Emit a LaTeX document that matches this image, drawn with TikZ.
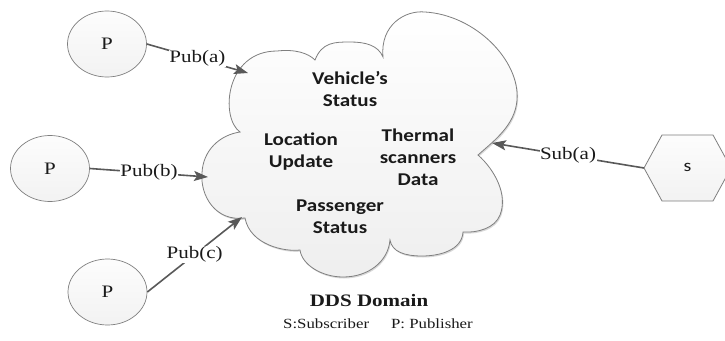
\documentclass[tikz,border=0pt]{standalone}
\usepackage{fontspec}
\setmainfont{Liberation Serif}[FakeStretch=1.2]
\newfontfamily\calfont{Carlito}[FakeStretch=1.17]
\usetikzlibrary{arrows.meta,shapes.geometric,shadows}
\definecolor{conncol}{HTML}{595959}
\definecolor{edgecol}{HTML}{7F7F7F}
\definecolor{txtcol}{HTML}{1A1A1A}
\tikzset{
  pubnode/.style={ellipse, draw=edgecol, line width=0.7pt, top color=gray!2, bottom color=gray!10,
    minimum width=79pt, minimum height=66pt, inner sep=0pt, font=\fontsize{17.5}{21}\selectfont, text=txtcol},
  conn/.style={draw=conncol, line width=1.6pt, -{Stealth[length=14pt,width=10pt,inset=3pt]}},
  lab/.style={fill=white, inner sep=0.5pt, font=\fontsize{17.5}{21}\selectfont, text=txtcol},
  topic/.style={align=center, font=\calfont\bfseries\fontsize{18}{22}\selectfont, text=txtcol},
  shapeline/.style={draw=edgecol, line width=0.8pt},
}
\begin{document}
\begin{tikzpicture}[x=1pt,y=-1pt]
\useasboundingbox (0,0) rectangle (725,340);
\fill[white] (0,0) rectangle (725,340);

% cloud (DDS domain)
\path[shapeline, top color=white, bottom color=gray!13,
      drop shadow={shadow xshift=1pt, shadow yshift=-1.5pt, opacity=0.3, fill=gray}]
  (240,132) .. controls (220,118) and (225,51) .. (277,51)
  .. controls (295,49) and (308,53) .. (315,60)
  .. controls (322,42) and (335,42) .. (350,42)
  .. controls (365,42) and (378,45) .. (383,57)
  .. controls (380,25) and (405,10) .. (425,12)
  .. controls (475,15) and (520,60) .. (517,100)
  .. controls (515,125) and (495,140) .. (478,155)
  .. controls (495,170) and (508,195) .. (500,215)
  .. controls (495,228) and (478,233) .. (463,232)
  .. controls (462,250) and (440,256) .. (422,256)
  .. controls (405,256) and (392,252) .. (390,240)
  .. controls (388,262) and (368,277) .. (343,277)
  .. controls (322,277) and (302,265) .. (300,250)
  .. controls (285,252) and (250,245) .. (245,218)
  .. controls (215,222) and (200,195) .. (202,173)
  .. controls (203,150) and (220,135) .. (240,132) -- cycle;

\coordinate (ca) at (248,73);
\coordinate (cb) at (208,177);
\coordinate (cc) at (242,217);
\coordinate (cs) at (492,143);

% topics
\node[topic] (t1) at (350,89.5) {Vehicle’s\\Status};
\node[topic] (t2) at (301,152) {Location\\Update};
\node[topic] (t3) at (418,157) {Thermal\\scanners\\Data};
\node[topic] (t4) at (340,216.5) {Passenger\\Status};

% publishers
\node[pubnode] (P1) at (107,44) {P};
\node[pubnode] (P2) at (50,168.5) {P};
\node[pubnode] (P3) at (107.5,292) {P};

% subscriber
\coordinate (Sw) at (644,168);
\draw[shapeline, top color=gray!2, bottom color=gray!10]
  (Sw) -- (662,135) -- (713,135) -- (731,168) -- (713,201) -- (662,201) -- cycle;
\node[font=\calfont\fontsize{17}{20}\selectfont, text=txtcol] (S) at (687.5,167) {s};

% connectors
\draw[conn] (P1.east) -- node[lab] {Pub(a)} (ca);
\draw[conn] (P2.east) -- node[lab] {Pub(b)} (cb);
\draw[conn] (P3.east) -- node[lab] {Pub(c)} (cc);
\draw[conn] (Sw) -- node[lab] {Sub(a)} (cs);

% captions
\node[anchor=base, font=\bfseries\fontsize{17.5}{21}\selectfont, text=txtcol] (dds) at (369,306) {DDS Domain};
\node[anchor=base, font=\fontsize{14}{17}\selectfont, text=txtcol] (legend) at (378,328) {S:Subscriber\hspace{22pt}P: Publisher};
\end{tikzpicture}
\end{document}
